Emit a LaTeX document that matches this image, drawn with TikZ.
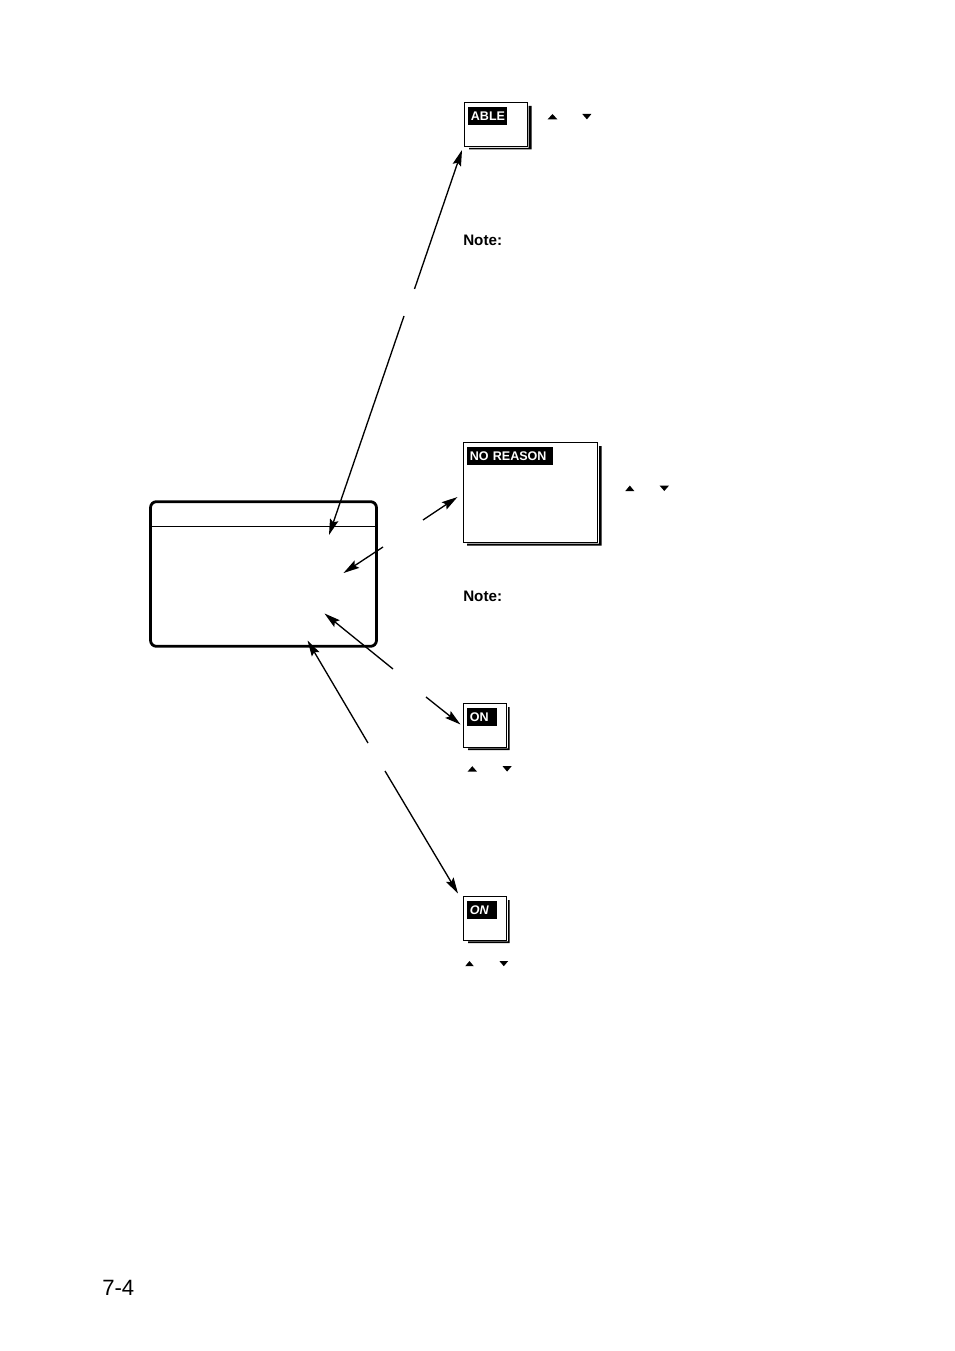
\documentclass[tikz,border=0pt]{standalone}
\usepackage{fontspec}
\setmainfont{Liberation Sans}
\usetikzlibrary{arrows.meta}

\tikzset{
  menubox/.style={draw, line width=2.1pt, rounded corners=4.5pt, inner sep=0pt, minimum width=169.5pt, minimum height=108.5pt},
  panel/.style={draw, line width=0.8pt, fill=white, inner sep=0pt},
  tag/.style={anchor=north west, fill=black, text=white, font=\fontsize{9.4}{11}\selectfont\bfseries, inner ysep=0pt, inner xsep=2pt, text height=9.75pt, text depth=3.25pt, align=left},
  note/.style={anchor=base west, inner sep=0pt, font=\fontsize{11.4}{13}\selectfont\bfseries},
  pointer/.style={line width=1pt, -{Stealth[length=12pt, width=6.5pt, inset=2pt]}},
  tri/.style={fill=black}
}

\begin{document}
\begin{tikzpicture}[x=0.75pt, y=-0.75pt]

\useasboundingbox (0,0) rectangle (954,1351);

% menu window
\node [menubox] (menu) at (263.5,574) {};
\coordinate (hl) at (151,526);
\coordinate (hr) at (376.5,526);
\draw [line width=0.6pt] (hl) -- (hr);

% shadows
\fill (528.7,106) -- (531.7,106) -- (531.7,149.5) -- (469,149.5) -- (469,147.8) -- (528.7,147.8) -- cycle;
\fill (599,446) -- (601.7,446) -- (601.7,545.7) -- (467,545.7) -- (467,543.7) -- (599,543.7) -- cycle;
\fill (508,707) -- (509.6,707) -- (509.6,750) -- (468,750) -- (468,748.4) -- (508,748.4) -- cycle;
\fill (508,900) -- (509.6,900) -- (509.6,943) -- (468,943) -- (468,941.4) -- (508,941.4) -- cycle;

% panels
\node [panel, minimum width=47.6pt, minimum height=33.5pt] (able) at (495.8,124.5) {};
\node [panel, minimum width=100.8pt, minimum height=75.3pt] (reason) at (530.5,492.5) {};
\node [panel, minimum width=32.2pt, minimum height=33pt] (on1) at (484.8,725.3) {};
\node [panel, minimum width=32.2pt, minimum height=33pt] (on2) at (484.8,918.3) {};

\node [tag, text width=25pt] (ablet) at (468,107) {ABLE};
\node [tag, text width=60pt] (reasont) at (467,447) {NO REASON};
\node [tag, text width=18.5pt] (on1t) at (467,708) {ON};
\node [tag, text width=18.5pt] (on2t) at (467,901) {\itshape ON};

\node [note] (note1) at (463,245.5) {Note:};
\node [note] (note2) at (463,601) {Note:};
\node [anchor=base west, inner sep=0pt, font=\fontsize{16.6}{18}\selectfont] (page) at (102,1295) {7-4};

% up and down marks
\fill [tri] (547.6,119.4) -- (552.5,114) -- (557.4,119.4) -- cycle;
\fill [tri] (582.3,114) -- (591.4,114) -- (586.9,119.4) -- cycle;
\fill [tri] (625.3,491) -- (629.8,485.6) -- (634.3,491) -- cycle;
\fill [tri] (659.6,485.6) -- (669,485.6) -- (664.3,491) -- cycle;
\fill [tri] (467.6,771.6) -- (472.3,766.2) -- (477,771.6) -- cycle;
\fill [tri] (502.6,766.2) -- (511.6,766.2) -- (507.1,771.6) -- cycle;
\fill [tri] (465.2,966.2) -- (469.5,961) -- (473.8,966.2) -- cycle;
\fill [tri] (499.4,961) -- (508.2,961) -- (503.8,966.2) -- cycle;

% connector ends
\coordinate (a1) at (414.5,289);
\coordinate (a2) at (462,150);
\coordinate (a3) at (404,316);
\coordinate (a4) at (329,535);
\coordinate (b1) at (423,520);
\coordinate (b2) at (457.5,497);
\coordinate (b3) at (383,547);
\coordinate (b4) at (343.5,573);
\coordinate (c1) at (393,669);
\coordinate (c2) at (324.5,613.5);
\coordinate (c3) at (426,697);
\coordinate (c4) at (460.5,724.5);
\coordinate (d1) at (368,743);
\coordinate (d2) at (307.5,640.5);
\coordinate (d3) at (385,771);
\coordinate (d4) at (458,893.5);

\begin{scope}[pointer]
\draw (a1) -- (a2);
\draw (a3) -- (a4);
\draw (b1) -- (b2);
\draw (b3) -- (b4);
\draw (c1) -- (c2);
\draw (c3) -- (c4);
\draw (d1) -- (d2);
\draw (d3) -- (d4);
\end{scope}

\end{tikzpicture}
\end{document}
